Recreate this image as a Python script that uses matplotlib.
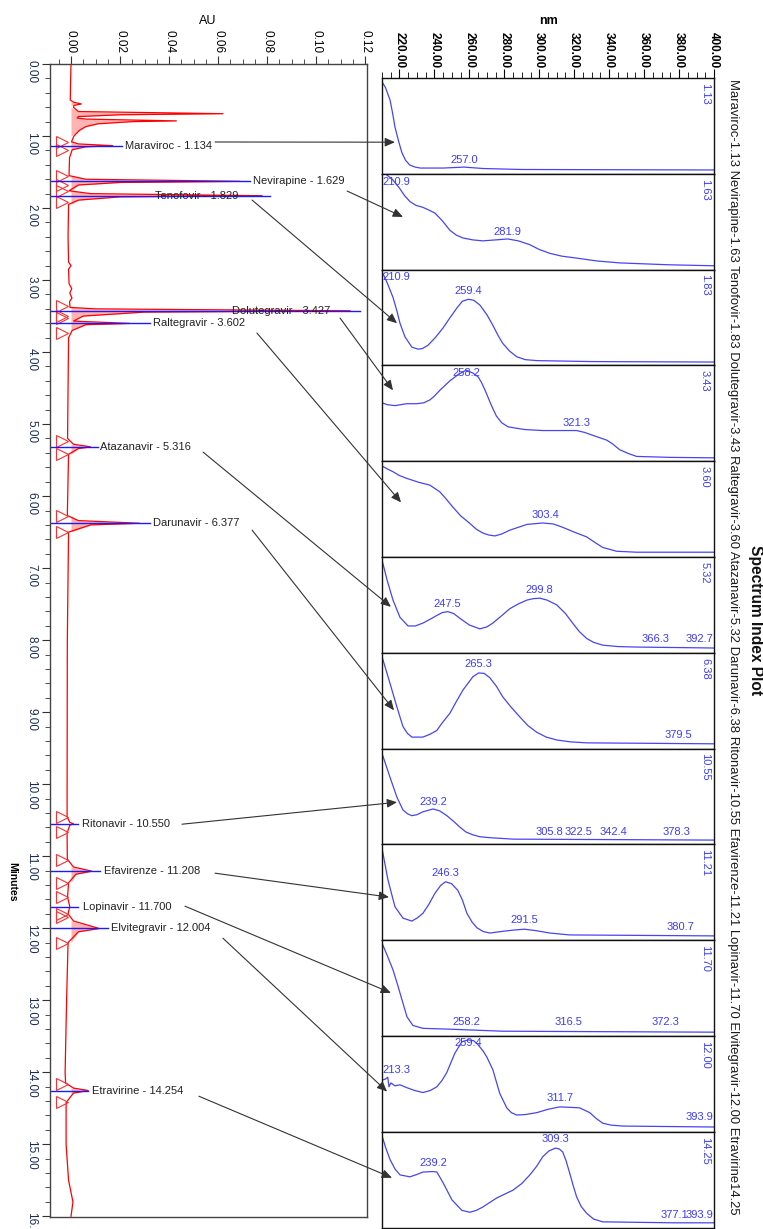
import matplotlib
matplotlib.use('Agg')
import matplotlib.pyplot as plt
from matplotlib.patches import ConnectionPatch
from matplotlib.ticker import MultipleLocator, FormatStrFormatter

plt.rcParams['font.family'] = ['Liberation Sans', 'DejaVu Sans']

# ---- chromatogram data ----
compounds = ['Maraviroc', 'Nevirapine', 'Tenofovir', 'Dolutegravir', 'Raltegravir',
             'Atazanavir', 'Darunavir', 'Ritonavir', 'Efavirenze', 'Lopinavir',
             'Elvitegravir', 'Etravirine']
ret_times = [1.134, 1.629, 1.829, 3.427, 3.602, 5.316, 6.377, 10.550, 11.208,
             11.700, 12.004, 14.254]
peak_start = [1.09, 1.56, 1.77, 3.36, 3.53, 5.23, 6.27, 10.46, 11.05, 11.57, 11.84, 14.16]
peak_end = [1.20, 1.68, 1.91, 3.50, 3.73, 5.42, 6.50, 10.66, 11.37, 11.80, 12.20, 14.41]

trace_t = [0.00, 0.30, 0.50, 0.53, 0.555, 0.575, 0.60, 0.66, 0.69, 0.705, 0.73, 0.75,
           0.765, 0.79, 0.80, 0.83, 0.87, 0.92, 1.00, 1.08, 1.11, 1.134, 1.15, 1.19,
           1.30, 1.55, 1.60, 1.629, 1.645, 1.68, 1.76, 1.80, 1.829, 1.845, 1.89, 1.95,
           2.40, 2.75, 2.80, 2.85, 3.05, 3.12, 3.18, 3.25, 3.30, 3.38, 3.40, 3.427,
           3.445, 3.50, 3.57, 3.602, 3.62, 3.70, 3.80, 4.50, 5.20, 5.28, 5.316, 5.34,
           5.42, 6.27, 6.34, 6.377, 6.40, 6.50, 8.00, 10.45, 10.53, 10.55, 10.57,
           10.68, 11.04, 11.15, 11.208, 11.25, 11.37, 11.57, 11.70, 11.80, 11.90,
           12.004, 12.05, 12.20, 13.00, 14.00, 14.15, 14.22, 14.254, 14.29, 14.42,
           15.00, 15.50, 15.80, 16.00]
trace_au = [0.0000, -0.0002, -0.0003, 0.0010, 0.0042, 0.0012, 0.0010, 0.0030, 0.0620,
            0.0200, 0.0030, 0.0025, 0.0060, 0.0430, 0.0250, 0.0110, 0.0060, 0.0035,
            0.0012, 0.0002, 0.0030, 0.0170, 0.0060, 0.0005, -0.0006, -0.0008, 0.0060,
            0.0690, 0.0200, 0.0030, -0.0008, 0.0080, 0.0780, 0.0200, 0.0030, -0.0010,
            -0.0012, -0.0010, 0.0000, -0.0010, -0.0008, 0.0003, -0.0005, 0.0004,
            -0.0006, -0.0004, 0.0100, 0.1140, 0.0300, 0.0050, 0.0010, 0.0240, 0.0060,
            0.0005, -0.0010, -0.0012, -0.0014, 0.0010, 0.0080, 0.0030, -0.0010,
            -0.0015, 0.0030, 0.0280, 0.0080, -0.0010, -0.0015, -0.0016, -0.0005,
            0.0010, -0.0005, -0.0016, -0.0015, 0.0010, 0.0085, 0.0020, -0.0010,
            -0.0014, -0.0005, -0.0012, 0.0010, 0.0115, 0.0030, -0.0012, -0.0018,
            -0.0024, -0.0022, 0.0010, 0.0070, 0.0010, -0.0020, -0.0020, -0.0010,
            0.0008, 0.0000]

# ---- spectra (nm, relative absorbance in panel) ----
maraviroc_nm = [210, 212, 214.6, 216, 217.4, 219.5, 221.4, 223.5, 226, 229, 232, 245,
                257, 268, 290, 400]
maraviroc_abs = [0.96, 0.90, 0.77, 0.64, 0.49, 0.34, 0.22, 0.14, 0.09, 0.07, 0.06, 0.06,
                 0.07, 0.055, 0.045, 0.04]
nevirapine_nm = [210, 212, 216, 220, 223, 226, 229.5, 233.4, 237, 240.3, 244.5, 248.9,
                 252.5, 256.3, 262, 267.7, 275, 282, 288, 294.6, 300, 306, 313, 321.4,
                 333, 346, 360, 374.6, 400]
nevirapine_abs = [0.99, 1.0, 0.94, 0.85, 0.77, 0.71, 0.67, 0.65, 0.62, 0.59, 0.51, 0.41,
                  0.36, 0.33, 0.31, 0.30, 0.31, 0.32, 0.30, 0.26, 0.21, 0.17, 0.14, 0.12,
                  0.09, 0.07, 0.06, 0.05, 0.04]
tenofovir_nm = [210, 213, 216.3, 218.5, 220.3, 223.1, 227.1, 230.6, 233, 236.3, 240.5,
                244.9, 249, 252.9, 256, 259.4, 262.5, 266, 270, 273.4, 276.5, 279.1,
                283, 287.1, 292, 298.6, 330, 400]
tenofovir_abs = [0.98, 0.86, 0.71, 0.57, 0.44, 0.30, 0.19, 0.17, 0.175, 0.21, 0.29, 0.39,
                 0.50, 0.60, 0.67, 0.69, 0.68, 0.63, 0.53, 0.42, 0.31, 0.23, 0.15, 0.09,
                 0.06, 0.05, 0.04, 0.035]
dolutegravir_nm = [210, 213, 217.4, 224, 230, 234, 237.4, 240, 243.1, 248.9, 254, 258.2,
                   262, 265, 267, 269, 272.9, 275.5, 278.6, 282, 284.9, 292, 302, 312,
                   321.4, 326, 330.6, 338.6, 342, 346, 351, 355.7, 374.6, 400]
dolutegravir_abs = [0.61, 0.59, 0.58, 0.60, 0.60, 0.61, 0.64, 0.68, 0.74, 0.84, 0.91,
                    0.95, 0.92, 0.88, 0.82, 0.74, 0.57, 0.47, 0.40, 0.36, 0.35, 0.33,
                    0.32, 0.32, 0.32, 0.30, 0.27, 0.22, 0.18, 0.12, 0.08, 0.05, 0.04,
                    0.035]
raltegravir_nm = [210, 213, 216.3, 220, 224.3, 231, 237.4, 243.1, 246.5, 250.6, 255,
                  260.3, 264, 267.7, 271, 274.6, 278.5, 283.1, 288, 292.9, 302, 308,
                  313.4, 320, 327.1, 332, 336.3, 344.3, 355.7, 400]
raltegravir_abs = [0.95, 0.92, 0.89, 0.85, 0.82, 0.78, 0.75, 0.68, 0.61, 0.52, 0.43,
                   0.35, 0.29, 0.25, 0.23, 0.22, 0.24, 0.28, 0.31, 0.34, 0.355, 0.345,
                   0.31, 0.26, 0.21, 0.15, 0.10, 0.06, 0.05, 0.05]
atazanavir_nm = [210, 212.9, 216.3, 220.3, 224.9, 229, 233.4, 237.5, 241.4, 244.5, 247.7,
                 251, 254.6, 260, 266, 270, 273.4, 278, 283.1, 288, 292.9, 296.5, 300.3,
                 304.5, 310, 315, 319.1, 323, 327.1, 331, 336.3, 345, 355.7, 400]
atazanavir_abs = [0.97, 0.76, 0.55, 0.37, 0.28, 0.28, 0.31, 0.35, 0.39, 0.42, 0.43, 0.41,
                  0.36, 0.29, 0.25, 0.27, 0.31, 0.38, 0.46, 0.51, 0.55, 0.565, 0.57,
                  0.55, 0.50, 0.41, 0.31, 0.22, 0.15, 0.11, 0.08, 0.065, 0.06, 0.05]
darunavir_nm = [210, 214.6, 218.6, 222, 224.5, 227.1, 233.4, 237.5, 241.4, 244.5, 248.9,
                252.5, 256.3, 262, 265.3, 268.5, 271.7, 275.5, 279.1, 284, 288.9, 293.5,
                298.6, 304, 310, 318, 327.1, 400]
darunavir_abs = [0.96, 0.68, 0.43, 0.23, 0.16, 0.12, 0.12, 0.15, 0.19, 0.27, 0.37, 0.49,
                 0.61, 0.75, 0.79, 0.785, 0.74, 0.65, 0.54, 0.43, 0.33, 0.24, 0.17, 0.12,
                 0.09, 0.07, 0.06, 0.05]
ritonavir_nm = [210, 214.6, 218.6, 222, 224.5, 227.1, 230, 233.4, 239.2, 243, 247.1, 251,
                254.6, 258, 262, 266, 271.7, 285, 400]
ritonavir_abs = [0.95, 0.70, 0.49, 0.36, 0.32, 0.30, 0.31, 0.34, 0.37, 0.35, 0.30, 0.24,
                 0.18, 0.13, 0.10, 0.08, 0.07, 0.055, 0.045]
efavirenze_nm = [210, 213.4, 217.4, 222, 227.1, 230, 233.4, 237, 240.3, 243.5, 246.3,
                 249.8, 253.4, 256, 258.6, 261.5, 264.3, 268, 271.7, 278, 284.9, 291.5,
                 298, 306, 317.4, 400]
efavirenze_abs = [0.96, 0.63, 0.35, 0.23, 0.20, 0.23, 0.28, 0.38, 0.49, 0.57, 0.61, 0.59,
                  0.52, 0.42, 0.28, 0.19, 0.13, 0.09, 0.075, 0.09, 0.105, 0.115, 0.10,
                  0.075, 0.055, 0.045]
lopinavir_nm = [210, 213, 216.3, 219, 221.4, 224.3, 227.7, 233.4, 250.6, 279.1, 400]
lopinavir_abs = [0.97, 0.84, 0.69, 0.53, 0.38, 0.20, 0.11, 0.08, 0.07, 0.05, 0.04]
elvitegravir_nm = [210, 212, 213.3, 214, 215.1, 217.4, 220.3, 224.3, 228.9, 233.4, 237.5,
                   241.4, 244.5, 247.1, 251.7, 255.7, 259.4, 262.5, 264.9, 268, 270,
                   273.4, 277.4, 281.4, 284, 287.1, 292, 298.6, 305, 311.7, 318, 323.1,
                   328.9, 332.5, 336.3, 341, 347.7, 400]
elvitegravir_abs = [0.54, 0.55, 0.57, 0.47, 0.51, 0.48, 0.49, 0.46, 0.43, 0.41, 0.43,
                    0.47, 0.54, 0.62, 0.82, 0.94, 0.96, 0.95, 0.91, 0.84, 0.78, 0.65,
                    0.40, 0.25, 0.20, 0.175, 0.18, 0.20, 0.235, 0.26, 0.255, 0.25, 0.20,
                    0.14, 0.09, 0.07, 0.06, 0.05]
etravirine_nm = [210, 212, 214.6, 217.5, 220.3, 226, 230, 233.4, 239.2, 241.4, 244.9, 250,
                 255.7, 260.3, 264, 267.7, 275.7, 284.9, 290, 294.6, 298.5, 302, 305.5,
                 309.3, 311.5, 313.4, 315.3, 317.4, 319.4, 321.4, 324, 327.1, 331, 336.3,
                 377.1, 393.9, 400]
etravirine_abs = [0.96, 0.84, 0.71, 0.61, 0.55, 0.53, 0.555, 0.58, 0.585, 0.58, 0.47,
                  0.29, 0.18, 0.16, 0.18, 0.215, 0.31, 0.39, 0.46, 0.55, 0.64, 0.74,
                  0.80, 0.83, 0.82, 0.79, 0.70, 0.57, 0.44, 0.32, 0.22, 0.15, 0.09, 0.06,
                  0.05, 0.05, 0.05]

spectra = [(maraviroc_nm, maraviroc_abs), (nevirapine_nm, nevirapine_abs),
           (tenofovir_nm, tenofovir_abs), (dolutegravir_nm, dolutegravir_abs),
           (raltegravir_nm, raltegravir_abs), (atazanavir_nm, atazanavir_abs),
           (darunavir_nm, darunavir_abs), (ritonavir_nm, ritonavir_abs),
           (efavirenze_nm, efavirenze_abs), (lopinavir_nm, lopinavir_abs),
           (elvitegravir_nm, elvitegravir_abs), (etravirine_nm, etravirine_abs)]

# labelled wavelengths per panel
peak_nm = [[257.0], [210.9, 281.9], [210.9, 259.4], [258.2, 321.3], [303.4],
           [247.5, 299.8, 366.3, 392.7], [265.3, 379.5],
           [239.2, 305.8, 322.5, 342.4, 378.3], [246.3, 291.5, 380.7],
           [258.2, 316.5, 372.3], [213.3, 259.4, 311.7, 393.9],
           [239.2, 309.3, 377.1, 393.9]]

# ---- layout (positions only) ----
peak_label_y = [[0.144], [0.914, 0.392], [0.923, 0.777], [0.921, 0.399], [0.438],
                [0.509, 0.656, 0.144, 0.144], [0.883, 0.142],
                [0.443, 0.129, 0.129, 0.129, 0.129], [0.701, 0.211, 0.138],
                [0.146, 0.146, 0.146], [0.645, 0.927, 0.353, 0.154],
                [0.674, 0.925, 0.132, 0.132]]
blue_end = [0.0208, 0.0731, 0.0812, 0.1180, 0.0322, 0.0110, 0.0322, 0.0029, 0.0118,
            0.0029, 0.0151, 0.0069]
label_x = [0.0220, 0.0743, 0.0343, 0.0657, 0.0335, 0.0118, 0.0335, 0.0045, 0.0135,
           0.0049, 0.0163, 0.0086]
conn_start = [(0.0588, 1.083), (0.1127, 1.764), (0.0739, 1.889), (0.1098, 3.528),
              (0.0759, 3.736), (0.0539, 5.389), (0.0739, 6.472), (0.0453, 10.556),
              (0.0588, 11.236), (0.0465, 11.694), (0.0620, 12.139), (0.0522, 14.333)]
conn_tip = [(217.4, 0.33), (222.0, 0.55), (218.6, 0.44), (216.3, 0.74), (220.9, 0.57),
            (215.1, 0.48), (216.9, 0.40), (218.6, 0.44), (214.0, 0.45), (215.1, 0.45),
            (212.9, 0.42), (215.7, 0.52)]

W, H = 763, 1229


def fx(x):
    return x / W


def fy(y):
    return 1 - y / H


fig = plt.figure(figsize=(W / 100, H / 100), dpi=100)

# ---------------- chromatogram ----------------
ax = fig.add_axes([fx(50), fy(1217), (367 - 50) / W, (1217 - 64) / H])
ax.set_xlim(-0.00857, 0.1208)
ax.set_ylim(16.01, 0)
ax.xaxis.tick_top()
ax.xaxis.set_major_locator(MultipleLocator(0.02))
ax.xaxis.set_minor_locator(MultipleLocator(0.005))
ax.xaxis.set_major_formatter(FormatStrFormatter('%.2f'))
ax.yaxis.set_major_locator(MultipleLocator(1.0))
ax.yaxis.set_minor_locator(MultipleLocator(0.2))
ax.yaxis.set_major_formatter(FormatStrFormatter('%.2f'))
ax.tick_params(axis='x', which='both', direction='out', top=True, bottom=False,
               labeltop=True, labelbottom=False, labelrotation=-90, labelsize=8.5,
               pad=2, color='#333333')
ax.tick_params(axis='y', which='both', direction='out', labelrotation=-90,
               labelsize=8.5, pad=3, labelcolor='#1c2a55', color='#333333')
ax.tick_params(which='major', length=6)
ax.tick_params(which='minor', length=3.5)
for s in ax.spines.values():
    s.set_color('#444444')
    s.set_linewidth(1)

pos_au = [a if a > 0.0015 else 0.0 for a in trace_au]
ax.fill_betweenx(trace_t, 0, pos_au, color='#ffb4b4', lw=0)
ax.plot(trace_au, trace_t, color='red', lw=0.9)
ax.plot([-0.0035] * len(peak_start), peak_start, ls='none', marker='>', ms=8,
        mfc='none', mec='#ff3030', mew=0.8)
ax.plot([-0.0035] * len(peak_end), peak_end, ls='none', marker='>', ms=8,
        mfc='none', mec='#ff3030', mew=0.8)

for i, name in enumerate(compounds):
    rt = ret_times[i]
    ax.plot([-0.00857, blue_end[i]], [rt, rt], color='#1a1aff', lw=1.0)
    ax.text(label_x[i], rt, '%s - %.3f' % (name, rt), ha='left', va='center',
            fontsize=8, color='#222222')

fig.text(fx(208), fy(21), 'AU', ha='center', va='center', fontsize=9)
fig.text(fx(12), fy(882), 'Minutes', ha='center', va='center', fontsize=7.5,
         fontweight='bold', rotation=-90)

# ---------------- spectra ----------------
panel_h = 95.8
spec_axes = []
for i, (nm, ab) in enumerate(spectra):
    top = 78 + i * panel_h
    sa = fig.add_axes([fx(382), fy(top + panel_h), 332 / W, panel_h / H])
    sa.set_xlim(210, 400)
    sa.set_ylim(0, 1)
    sa.plot(nm, ab, color='#4646f0', lw=0.9)
    for s in sa.spines.values():
        s.set_color('#111111')
        s.set_linewidth(1)
    if i == 0:
        sa.xaxis.tick_top()
        sa.xaxis.set_minor_locator(MultipleLocator(5))
        sa.xaxis.set_major_formatter(FormatStrFormatter('%.2f'))
        sa.set_xticks([220, 240, 260, 280, 300, 320, 340, 360, 380, 400])
        sa.tick_params(axis='x', which='both', direction='out', top=True,
                       bottom=False, labeltop=True, labelbottom=False,
                       labelrotation=-90, labelsize=8.5, pad=0.5)
        sa.tick_params(which='major', length=6.5)
        sa.tick_params(which='minor', length=4)
        for lab in sa.get_xticklabels():
            lab.set_fontweight('bold')
        sa.set_yticks([])
    else:
        sa.set_xticks([])
        sa.set_yticks([])
    # wavelength labels
    for w, yy in zip(peak_nm[i], peak_label_y[i]):
        if w < 219:
            xx, ha = 210.3, 'left'
        elif w > 391:
            xx, ha = 399.8, 'right'
        else:
            xx, ha = w, 'center'
        sa.text(xx, yy, '%.1f' % w, ha=ha, va='center', fontsize=8, color='#3c3cff')
    sa.text(0.973, 0.95, '%.2f' % ret_times[i], transform=sa.transAxes, rotation=-90,
            ha='center', va='top', fontsize=8, color='#3c3cff')
    spec_axes.append(sa)

fig.text(fx(548), fy(21), 'nm', ha='center', va='center', fontsize=9, fontweight='bold')

# ---------------- connectors ----------------
for i in range(len(compounds)):
    con = ConnectionPatch(xyA=conn_start[i], coordsA=ax.transData,
                          xyB=conn_tip[i], coordsB=spec_axes[i].transData,
                          arrowstyle='-|>,head_length=0.5,head_width=0.22',
                          mutation_scale=12, lw=0.8, color='#333333',
                          shrinkA=0, shrinkB=0)
    con.set_clip_on(False)
    fig.add_artist(con)

# ---------------- right side texts ----------------
side = ('Maraviroc-1.13 Nevirapine-1.63 Tenofovir-1.83 Dolutegravir-3.43 '
        'Raltegravir-3.60 Atazanavir-5.32 Darunavir-6.38 Ritonavir-10.55 '
        'Efavirenze-11.21 Lopinavir-11.70 Elvitegravir-12.00 Etravirine14.25')
st = fig.text(fx(733), fy(79), side, rotation=-90, ha='center', va='top', fontsize=8,
              color='#1a1a1a')
title = fig.text(fx(755), fy(620), 'Spectrum Index Plot', rotation=-90, ha='center',
                 va='center', fontsize=10, fontweight='bold', color='#111111')

r = fig.canvas.get_renderer()
hh = st.get_window_extent(r).height
st.set_fontsize(8 * 1141 / hh)
ht = title.get_window_extent(r).height
title.set_fontsize(10 * 150 / ht)

fig.savefig('out.png', dpi=100)
